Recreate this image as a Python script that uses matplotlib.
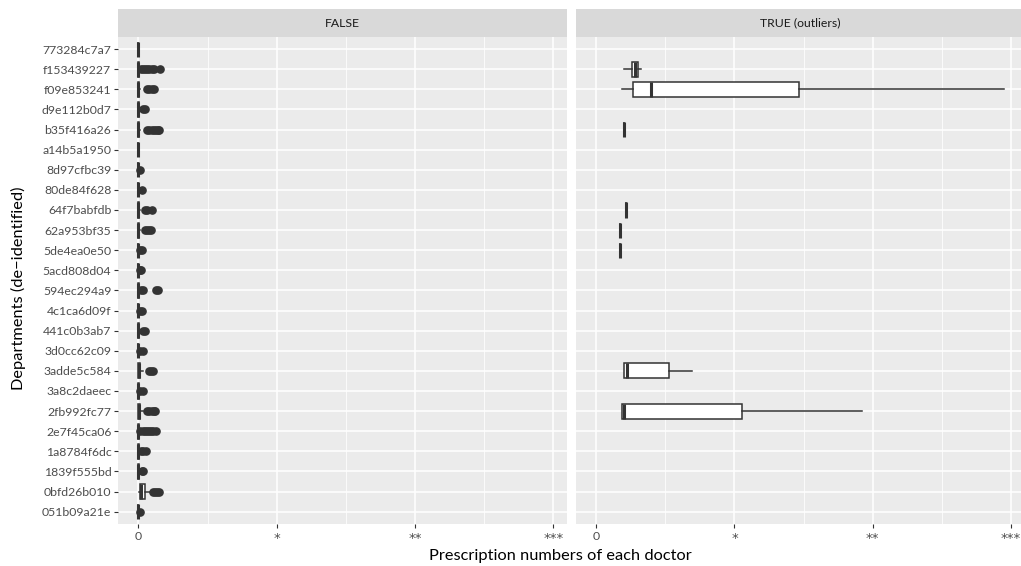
import matplotlib
matplotlib.use("Agg")
import matplotlib.pyplot as plt
from matplotlib.transforms import ScaledTranslation

plt.rcParams['font.family'] = ['Lato', 'DejaVu Sans']

# Departments, listed top to bottom as displayed
departments = [
    "773284c7a7", "f153439227", "f09e853241", "d9e112b0d7", "b35f416a26",
    "a14b5a1950", "8d97cfbc39", "80de84f628", "64f7babfdb", "62a953bf35",
    "5de4ea0e50", "5acd808d04", "594ec294a9", "4c1ca6d09f", "441c0b3ab7",
    "3d0cc62c09", "3adde5c584", "3a8c2daeec", "2fb992fc77", "2e7f45ca06",
    "1a8784f6dc", "1839f555bd", "0bfd26b010", "051b09a21e",
]

facet_labels = ["FALSE", "TRUE (outliers)"]
x_tick_values = [0, 1, 2, 3]
x_tick_labels = ["0", "*", "**", "***"]

# ---- Panel FALSE (non-outlier doctors): five-number summaries + outliers ----
false_whislo = [0, 0, 0, 0, 0, 0, 0, 0, 0, 0, 0, 0, 0, 0, 0, 0, 0, 0, 0, 0, 0, 0, 0.008, 0]
false_q1     = [0, 0, 0, 0, 0, 0, 0, 0, 0, 0, 0, 0, 0, 0, 0, 0, 0, 0, 0, 0, 0, 0, 0.012, 0]
false_med    = [0, 0, 0, 0, 0, 0, 0, 0, 0, 0, 0, 0, 0, 0, 0, 0, 0.005, 0, 0.005, 0, 0, 0, 0.018, 0]
false_q3     = [0, 0.004, 0.004, 0.003, 0.004, 0, 0, 0, 0.004, 0.004, 0, 0, 0.004, 0,
                0.003, 0, 0.012, 0.002, 0.012, 0.002, 0.003, 0.002, 0.045, 0]
false_whishi = [0, 0.01, 0.01, 0.008, 0.01, 0, 0, 0, 0.01, 0.01, 0, 0, 0.01, 0,
                0.008, 0, 0.03, 0.006, 0.03, 0.005, 0.008, 0.005, 0.085, 0]
false_fliers = [
    [],
    [0.02, 0.035, 0.05, 0.065, 0.08, 0.095, 0.11, 0.155],
    [0.065, 0.08, 0.095, 0.11],
    [0.03, 0.045],
    [0.065, 0.08, 0.095, 0.11, 0.125, 0.14, 0.15],
    [],
    [0.015],
    [0.027],
    [0.05, 0.065, 0.1],
    [0.05, 0.065, 0.08, 0.09],
    [0.01, 0.025],
    [0.01, 0.022],
    [0.02, 0.035, 0.125, 0.145],
    [0.01, 0.025],
    [0.03, 0.048],
    [0.01, 0.03],
    [0.075, 0.09, 0.105],
    [0.015, 0.03],
    [0.065, 0.08, 0.095, 0.11, 0.12],
    [0.015, 0.03, 0.045, 0.06, 0.075, 0.09, 0.105, 0.125],
    [0.02, 0.035, 0.053],
    [0.025, 0.035],
    [0.105, 0.12, 0.135, 0.15],
    [0.01],
]

# ---- Panel TRUE (outliers): only some departments present ----
true_departments = ["f153439227", "f09e853241", "b35f416a26", "64f7babfdb",
                    "62a953bf35", "5de4ea0e50", "3adde5c584", "2fb992fc77"]
true_whislo = [0.200, 0.190, 0.202, 0.216, 0.175, 0.173, 0.200, 0.185]
true_q1     = [0.257, 0.270, 0.202, 0.216, 0.175, 0.173, 0.200, 0.185]
true_med    = [0.280, 0.400, 0.202, 0.216, 0.175, 0.173, 0.225, 0.200]
true_q3     = [0.305, 1.466, 0.202, 0.216, 0.175, 0.173, 0.525, 1.058]
true_whishi = [0.325, 2.950, 0.202, 0.216, 0.175, 0.173, 0.690, 1.920]

n = len(departments)
ypos = {d: n - i for i, d in enumerate(departments)}  # top row -> highest y

W, H = 1021, 566
fig = plt.figure(figsize=(W / 100, H / 100), dpi=100)

panel_left = [118.3, 576.0]
panel_w = 449.0
panel_top = 37.0
panel_bot = 523.7
strip_top = 9.3

ink = "#333333"
common = dict(orientation="horizontal", widths=0.75, patch_artist=True,
              showcaps=False,
              boxprops=dict(facecolor="white", edgecolor=ink, linewidth=1.1),
              medianprops=dict(color=ink, linewidth=2.2, solid_capstyle="butt"),
              whiskerprops=dict(color=ink, linewidth=1.1),
              flierprops=dict(marker="o", markerfacecolor=ink, markeredgecolor=ink,
                              markersize=5.2, linestyle="none"))

stats0 = []
for i, d in enumerate(departments):
    stats0.append(dict(whislo=false_whislo[i], q1=false_q1[i], med=false_med[i],
                       q3=false_q3[i], whishi=false_whishi[i],
                       fliers=false_fliers[i]))
stats1 = []
for i, d in enumerate(true_departments):
    stats1.append(dict(whislo=true_whislo[i], q1=true_q1[i], med=true_med[i],
                       q3=true_q3[i], whishi=true_whishi[i], fliers=[]))
panel_stats = [(stats0, [ypos[d] for d in departments]),
               (stats1, [ypos[d] for d in true_departments])]

for k in range(2):
    ax = fig.add_axes([panel_left[k] / W, (H - panel_bot) / H,
                       panel_w / W, (panel_bot - panel_top) / H])
    ax.set_facecolor("#ebebeb")
    for s in ax.spines.values():
        s.set_visible(False)
    st, pos = panel_stats[k]
    ax.bxp(st, positions=pos, **common)

    ax.set_xlim(-0.145, 3.10)
    ax.set_ylim(0.4, n + 0.6)
    ax.set_xticks(x_tick_values)
    ax.set_xticklabels(x_tick_labels)
    ax.set_xticks([0.5, 1.5, 2.5], minor=True)
    ax.set_yticks([ypos[d] for d in departments])
    ax.grid(True, which="major", color="white", linewidth=1.1)
    ax.grid(True, which="minor", axis="x", color="white", linewidth=0.55)
    ax.set_axisbelow(True)
    ax.tick_params(axis="x", which="major", length=3, width=0.8, color=ink,
                   labelcolor="#4d4d4d", labelsize=8.8, pad=2)
    ax.tick_params(axis="x", which="minor", length=0)
    for lab in ax.get_xticklabels():
        if "*" in lab.get_text():
            lab.set_fontfamily("DejaVu Sans")
            lab.set_fontsize(9.5)
            lab.set_transform(lab.get_transform() +
                              ScaledTranslation(0, -1.2 / 72, fig.dpi_scale_trans))
    if k == 0:
        ax.set_yticklabels(departments)
        ax.tick_params(axis="y", length=3, width=0.8, color=ink,
                       labelcolor="#4d4d4d", labelsize=8.8, pad=2)
    else:
        ax.set_yticklabels([])
        ax.tick_params(axis="y", length=0, labelleft=False)

    sax = fig.add_axes([panel_left[k] / W, (H - panel_top) / H,
                        panel_w / W, (panel_top - strip_top) / H])
    sax.set_facecolor("#d9d9d9")
    sax.set_xticks([]); sax.set_yticks([])
    for s in sax.spines.values():
        s.set_visible(False)
    sax.text(0.5, 0.5, facet_labels[k], ha="center", va="center",
             color="#1a1a1a", fontsize=8.8, transform=sax.transAxes)

fig.text(560.5 / W, (H - 556) / H, "Prescription numbers of each doctor",
         ha="center", va="center", fontsize=11.8, color="black")
fig.text(18 / W, (H - 288) / H, "Departments (de\u2212identified)",
         ha="center", va="center", rotation=90, fontsize=11.8, color="black")

fig.savefig("out.png", dpi=100)
